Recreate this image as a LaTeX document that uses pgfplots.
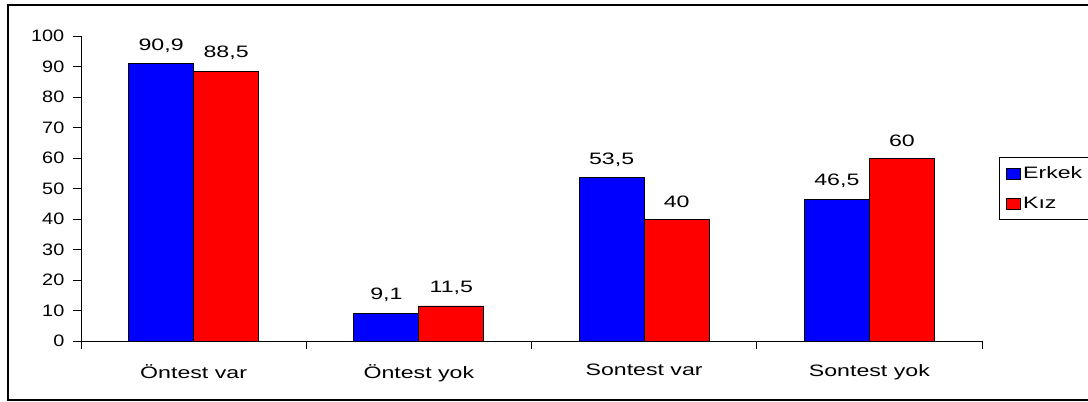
\documentclass[border=0pt]{standalone}
\usepackage{pgfplots}
\pgfplotsset{compat=1.18}
\usepackage{fontspec}
\setmainfont{Liberation Sans}[FakeStretch=1.4]
\newfontfamily\numfont{Liberation Sans}[FakeStretch=1.2]
\definecolor{cblue}{RGB}{0,0,255}
\definecolor{cred}{RGB}{255,0,0}
\newcommand{\cf}{\fontsize{12.4}{14}\selectfont}
\begin{document}
\begin{tikzpicture}[font=\cf]
\useasboundingbox (0,0) rectangle (816pt,300.75pt);
\begin{axis}[
  at={(60.75pt,45pt)}, anchor=south west,
  scale only axis, width=675.75pt, height=228.75pt,
  xmin=0, xmax=4, ymin=0, ymax=100,
  axis x line=bottom, axis y line=left,
  axis line style={-, line width=0.7pt},
  ytick={0,10,...,100},
  xtick={0,1,2,3,4}, xticklabels={},
  extra x ticks={0.5,1.5,2.5,3.5},
  extra x tick labels={Öntest var, Öntest yok, Sontest var, Sontest yok},
  extra x tick style={major tick length=0pt, xticklabel style={yshift=-14pt, font=\cf}},
  yticklabel style={font=\numfont\cf, xshift=-3pt},
  tick align=outside, major tick length=6pt,
  tick style={black, line width=0.7pt},
  /pgf/number format/assume math mode=true,
  ybar=0pt, bar width=48.75pt,
  nodes near coords,
  nodes near coords style={/pgf/number format/use comma, font=\cf, yshift=5pt},
  every axis plot/.append style={draw=black, line width=0.6pt},
  legend style={at={(1.019,0.603)}, anchor=north west, draw=black, line width=0.8pt,
    font=\cf, nodes={font=\cf, inner sep=2pt}, row sep=8pt, inner sep=5pt},
  legend cell align=left,
  legend image code/.code={\draw[#1, draw=black, line width=0.6pt] (0pt,-4pt) rectangle (10pt,4pt);},
]
\addplot[fill=cblue] coordinates {(0.5,90.9) (1.5,9.1) (2.5,53.5) (3.5,46.5)};
\addplot[fill=cred] coordinates {(0.5,88.5) (1.5,11.5) (2.5,40) (3.5,60)};
\legend{Erkek, Kız}
\end{axis}
\draw[line width=1.5pt] (816pt,297pt) -- (6pt,297pt) -- (6pt,0.75pt) -- (816pt,0.75pt);
\end{tikzpicture}
\end{document}
